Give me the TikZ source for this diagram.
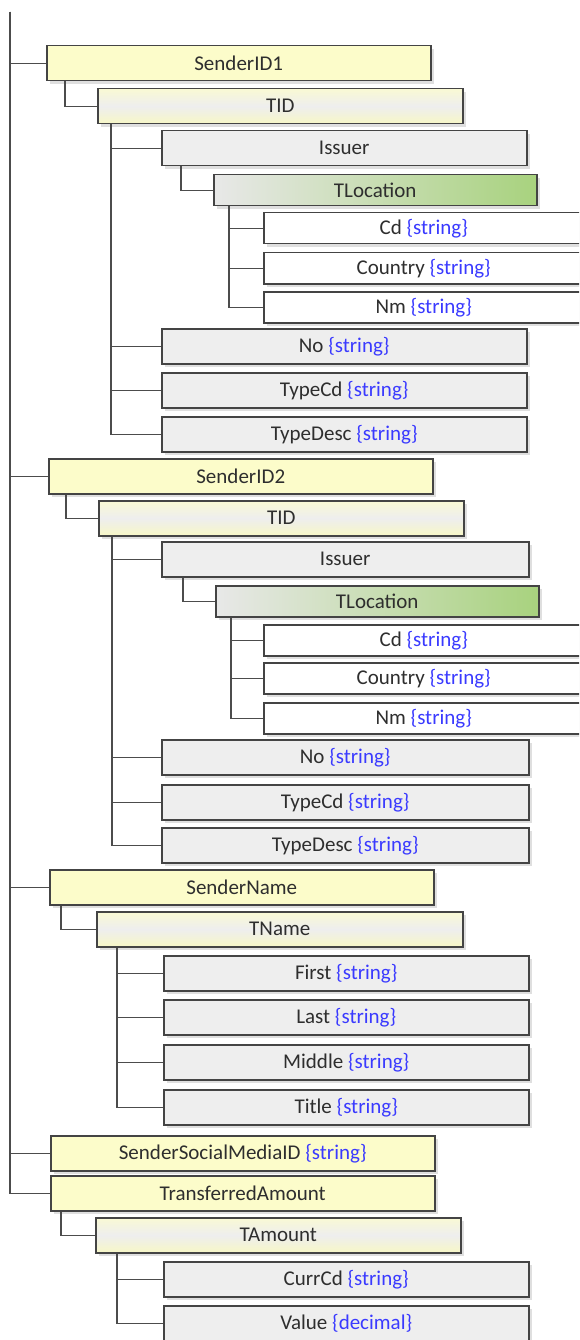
\documentclass[tikz,border=0pt]{standalone}
\usepackage{fontspec}
\setmainfont{Carlito}
\usepackage{xcolor}
\usepackage{tikz}
\usetikzlibrary{shadows}
\definecolor{boxline}{HTML}{444444}
\definecolor{connline}{HTML}{4C4C4C}
\definecolor{elemtext}{HTML}{2E2E2E}
\definecolor{typeblue}{HTML}{3A3AFF}
\definecolor{topfill}{HTML}{FCFCCA}
\definecolor{typetop}{HTML}{F9F9D4}
\definecolor{typemid}{HTML}{EEEEEE}
\definecolor{typebottom}{HTML}{F7F7C6}
\definecolor{grayfill}{HTML}{EEEEEE}
\definecolor{locleft}{HTML}{E8E8E8}
\definecolor{locright}{HTML}{A8D27E}
\newcommand{\dtype}[1]{\textcolor{typeblue}{\{#1\}}}
\tikzset{
  elem/.style={rectangle,draw=boxline,line width=1.5pt,anchor=north west,inner sep=0pt,
    text=elemtext,font=\fontsize{21}{24}\selectfont,minimum height=35pt,
    drop shadow={shadow xshift=3pt,shadow yshift=-3pt,fill=black!25,opacity=.5}},
  top node/.style={elem,fill=topfill,minimum width=384pt},
  type node/.style={elem,top color=typetop,bottom color=typebottom,middle color=typemid,minimum width=365pt},
  gray node/.style={elem,fill=grayfill,minimum width=365pt},
  loc node/.style={elem,left color=locleft,right color=locright,minimum width=323pt,minimum height=31pt},
  leaf node/.style={elem,fill=white,minimum width=320pt,minimum height=31pt},
  elbow/.style={to path={([xshift=#1]\tikztostart.south west) |- (\tikztotarget.west)}},
  trunk/.style={to path={(\tikztostart) |- (\tikztotarget.west)}}
}

\begin{document}
\begin{tikzpicture}[x=1pt,y=-1pt,every edge/.style={draw=connline,line width=1.3pt}]
    \useasboundingbox (0,0) rectangle (579,1340);
    \clip (0,0) rectangle (579,1340);

    \coordinate (0) at (10,12);

    % SenderID1
    \node[top node] (1) at (46,45) {SenderID1};
    \node[type node] (2) at (97,88) {TID};
    \node[gray node] (3) at (161,130) {Issuer};
    \node[loc node] (4) at (213,174) {TLocation};
    \node[leaf node] (5) at (263,212) {Cd \dtype{string}};
    \node[leaf node] (6) at (263,252) {Country \dtype{string}};
    \node[leaf node] (7) at (263,291) {Nm \dtype{string}};
    \node[gray node] (8) at (161,328) {No \dtype{string}};
    \node[gray node] (9) at (161,372) {TypeCd \dtype{string}};
    \node[gray node] (10) at (161,416) {TypeDesc \dtype{string}};

    % SenderID2
    \node[top node] (11) at (48,458) {SenderID2};
    \node[type node] (12) at (98,500) {TID};
    \node[gray node,minimum width=367pt] (13) at (161,541) {Issuer};
    \node[loc node] (14) at (215,585) {TLocation};
    \node[leaf node] (15) at (263,624) {Cd \dtype{string}};
    \node[leaf node] (16) at (263,662) {Country \dtype{string}};
    \node[leaf node] (17) at (263,702) {Nm \dtype{string}};
    \node[gray node,minimum width=367pt] (18) at (161,739) {No \dtype{string}};
    \node[gray node,minimum width=367pt] (19) at (161,784) {TypeCd \dtype{string}};
    \node[gray node,minimum width=367pt] (20) at (161,827) {TypeDesc \dtype{string}};

    % SenderName
    \node[top node] (21) at (49,869) {SenderName};
    \node[type node,minimum width=366pt] (22) at (96,911) {TName};
    \node[gray node] (23) at (163,955) {First \dtype{string}};
    \node[gray node] (24) at (163,999) {Last \dtype{string}};
    \node[gray node] (25) at (163,1044) {Middle \dtype{string}};
    \node[gray node] (26) at (163,1089) {Title \dtype{string}};

    % SenderSocialMediaID, TransferredAmount
    \node[top node] (27) at (50,1135) {SenderSocialMediaID \dtype{string}};
    \node[top node] (28) at (50,1175) {TransferredAmount};
    \node[type node] (29) at (95,1217) {TAmount};
    \node[gray node] (30) at (163,1261) {CurrCd \dtype{string}};
    \node[gray node] (31) at (163,1305) {Value \dtype{decimal}};

    \path[trunk] (0) edge (1) edge (11) edge (21) edge (27) edge (28);
    \path[elbow=19pt] (1) edge (2);
    \path[elbow=14pt] (2) edge (3) edge (8) edge (9) edge (10);
    \path[elbow=20pt] (3) edge (4);
    \path[elbow=16pt] (4) edge (5) edge (6) edge (7);
    \path[elbow=18pt] (11) edge (12);
    \path[elbow=14pt] (12) edge (13) edge (18) edge (19) edge (20);
    \path[elbow=22pt] (13) edge (14);
    \path[elbow=16pt] (14) edge (15) edge (16) edge (17);
    \path[elbow=12pt] (21) edge (22);
    \path[elbow=21pt] (22) edge (23) edge (24) edge (25) edge (26);
    \path[elbow=11pt] (28) edge (29);
    \path[elbow=22pt] (29) edge (30) edge (31);
\end{tikzpicture}
\end{document}
